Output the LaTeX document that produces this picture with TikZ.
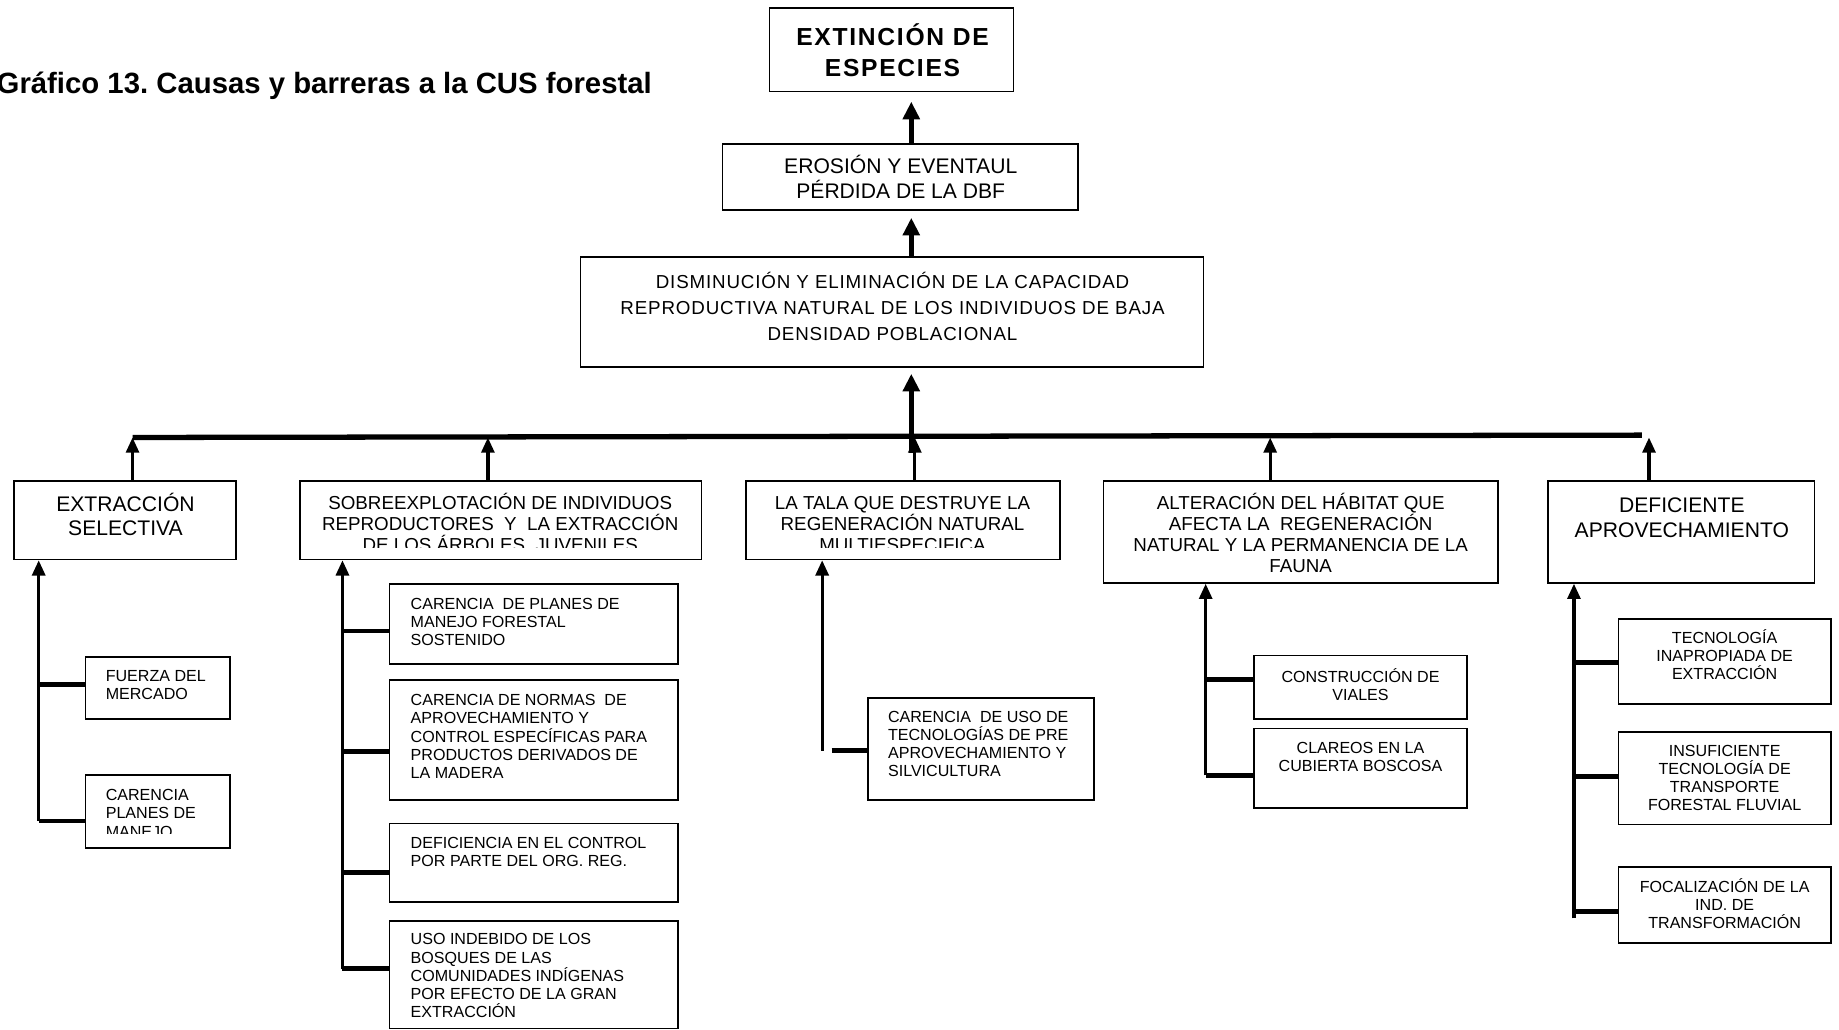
\documentclass[tikz,border=0pt]{standalone}
\usepackage{fontspec}
\setmainfont{Liberation Sans}
\newfontfamily\wideA[LetterSpace=7]{Liberation Sans}
\newfontfamily\wideB[LetterSpace=4.5]{Liberation Sans}
\usetikzlibrary{arrows.meta}
\frenchspacing
\newcommand\mkbox[5]{%
 \pgfmathsetmacro\mkbw{#4-#2}\pgfmathsetmacro\mkbh{#5-#3}%
 \node[box, minimum width=\mkbw pt, minimum height=\mkbh pt] (#1) at ({(#2+#4)/2},{(#3+#5)/2}) {};}
\begin{document}
\begin{tikzpicture}[x=1pt,y=-1pt,
  box/.style={draw, line width=1.4pt, inner sep=0pt},
  txt/.style={inner sep=0pt, anchor=base, align=center},
  ltxt/.style={inner sep=0pt, anchor=base west, align=left, font=\fontsize{13.7}{15.5}\selectfont},
  stxt/.style={inner sep=0pt, anchor=base, align=center, font=\fontsize{13.7}{15.5}\selectfont},
  mtxt/.style={txt, font=\fontsize{16}{18}\selectfont},
  bigarr/.style={line width=4.5pt, -{Triangle[width=14pt,length=15pt]}},
  arr/.style={line width=2.8pt, -{Triangle[width=11pt,length=13pt]}},
  br/.style={line width=4.2pt},
  bus/.style={line width=4.5pt}]
\useasboundingbox (0,0) rectangle (1568,878);

% title
\node[inner sep=0pt, anchor=base west, font=\fontsize{25}{28}\selectfont\bfseries] (title) at (-3,80) {Gráfico 13. Causas y barreras a la CUS forestal};

% top chain
\mkbox{b1}{656}{7}{864}{78}
\node[txt, font=\fontsize{21}{27}\wideA\bfseries] (b1t) at (761,65.5) {EXTINCIÓN DE\\ESPECIES};
\mkbox{b2}{616}{123}{919}{179}
\node[txt, font=\fontsize{18}{21}\selectfont] (b2t) at (768,169) {EROSIÓN Y EVENTAUL\\PÉRDIDA DE LA DBF};
\mkbox{b3}{495}{219}{1026}{313}
\node[txt, font=\fontsize{16}{22}\wideB] (b3t) at (761,290) {DISMINUCIÓN Y ELIMINACIÓN DE LA CAPACIDAD\\REPRODUCTIVA NATURAL DE LOS INDIVIDUOS DE BAJA\\DENSIDAD POBLACIONAL};

% level 2
\mkbox{l1}{12}{410}{201}{477}
\node[txt, font=\fontsize{18}{21}\selectfont] (l1t) at (107,457) {EXTRACCIÓN\\SELECTIVA};
\mkbox{l2}{256}{410}{598}{477}
\begin{scope}
\clip (256,410) rectangle (598,467);
\node[mtxt] (l2t) at (426.5,470.5) {SOBREEXPLOTACIÓN DE INDIVIDUOS\\REPRODUCTORES\ \ Y\ \ LA EXTRACCIÓN\\DE LOS ÁRBOLES\ \ JUVENILES};
\end{scope}
\mkbox{l3}{636}{410}{904}{477}
\begin{scope}
\clip (636,410) rectangle (904,467);
\node[mtxt] (l3t) at (769.5,470.5) {LA TALA QUE DESTRUYE LA\\REGENERACIÓN NATURAL\\MULTIESPECIFICA};
\end{scope}
\mkbox{l4}{941}{410}{1277}{497}
\node[mtxt] (l4t) at (1109,488.5) {ALTERACIÓN DEL HÁBITAT QUE\\AFECTA LA\ \ REGENERACIÓN\\NATURAL Y LA PERMANENCIA DE LA\\FAUNA};
\mkbox{l5}{1320}{410}{1547}{497}
\node[txt, font=\fontsize{18}{21}\selectfont] (l5t) at (1434,458) {DEFICIENTE\\APROVECHAMIENTO};

% level 3, group 1
\mkbox{f1}{73}{560}{196}{613}
\node[ltxt] (f1t) at (90,596.2) {FUERZA DEL\\MERCADO};
\mkbox{f2}{73}{661}{196}{723}
\begin{scope}
\clip (73,661) rectangle (196,711);
\node[ltxt] (f2t) at (90,713.7) {CARENCIA\\PLANES DE\\MANEJO};
\end{scope}

% group 2
\mkbox{s1}{332}{498}{578}{566}
\node[ltxt] (s1t) at (350,550.7) {CARENCIA\ \ DE PLANES DE\\MANEJO FORESTAL\\SOSTENIDO};
\mkbox{s2}{332}{580}{578}{682}
\node[ltxt] (s2t) at (350,663.7) {CARENCIA DE NORMAS\ \ DE\\APROVECHAMIENTO Y\\CONTROL ESPECÍFICAS PARA\\PRODUCTOS DERIVADOS DE\\LA MADERA};
\mkbox{s3}{332}{702}{578}{769}
\node[ltxt] (s3t) at (350,739.2) {DEFICIENCIA EN EL CONTROL\\POR PARTE DEL ORG. REG.};
\mkbox{s4}{332}{785}{578}{877}
\node[ltxt] (s4t) at (350,867.7) {USO INDEBIDO DE LOS\\BOSQUES DE LAS\\COMUNIDADES INDÍGENAS\\POR EFECTO DE LA GRAN\\EXTRACCIÓN};

% group 3
\mkbox{t1}{740}{595}{933}{682}
\node[ltxt] (t1t) at (757,662.2) {CARENCIA\ \ DE USO DE\\TECNOLOGÍAS DE PRE\\APROVECHAMIENTO Y\\SILVICULTURA};

% group 4
\mkbox{c1}{1069}{559}{1251}{613}
\node[stxt] (c1t) at (1160,597.2) {CONSTRUCCIÓN DE\\VIALES};
\mkbox{c2}{1069}{621}{1251}{689}
\node[stxt] (c2t) at (1160,658.2) {CLAREOS EN LA\\CUBIERTA BOSCOSA};

% group 5
\mkbox{d1}{1380}{528}{1561}{600}
\node[stxt] (d1t) at (1470.5,579.7) {TECNOLOGÍA\\INAPROPIADA DE\\EXTRACCIÓN};
\mkbox{d2}{1380}{624}{1561}{703}
\node[stxt] (d2t) at (1470.5,691.2) {INSUFICIENTE\\TECNOLOGÍA DE\\TRANSPORTE\\FORESTAL FLUVIAL};
\mkbox{d3}{1380}{739}{1561}{804}
\node[stxt] (d3t) at (1470.5,791.7) {FOCALIZACIÓN DE LA\\IND. DE\\TRANSFORMACIÓN};

% connectors: top chain
\coordinate (xa) at (777,0);
\draw[bigarr] (b2.north -| xa) -- ([yshift=-8pt]b1.south -| xa);
\draw[bigarr] (b3.north -| xa) -- ([yshift=-6pt]b2.south -| xa);

% bus
\coordinate (busL) at (113,373);
\coordinate (busR) at (1400,371);
\coordinate (busM) at (777,386);
\draw[bus] (busL) -- (busR);
\draw[bigarr] (busM) -- ([yshift=-5pt]b3.south -| busM);

\coordinate (x1) at (113,0);
\coordinate (x2) at (416,0);
\coordinate (x3) at (780,0);
\coordinate (x4) at (1083,0);
\coordinate (x5) at (1406,0);
\draw[arr] (l1.north -| x1) -- (busL -| x1);
\draw[arr] (l2.north -| x2) -- (busL -| x2);
\draw[arr] (l3.north -| x3) -- (busL -| x3);
\draw[arr] (l4.north -| x4) -- (busL -| x4);
\draw[arr] (l5.north -| x5) -- ([yshift=-2pt]busR -| x5);

% group 1
\coordinate (g1) at (33,700);
\coordinate (g1a) at (33,584);
\draw[arr] (g1) -- (l1.south -| g1);
\draw[br] (g1a) -- (g1a -| f1.west);
\draw[br] (g1) -- (g1 -| f2.west);

% group 2
\coordinate (g2) at (292,826);
\coordinate (g2a) at (292,538);
\coordinate (g2b) at (292,641);
\coordinate (g2c) at (292,744);
\draw[arr] (g2) -- (l2.south -| g2);
\draw[br] (g2a) -- (g2a -| s1.west);
\draw[br] (g2b) -- (g2b -| s2.west);
\draw[br] (g2c) -- (g2c -| s3.west);
\draw[br] (g2) -- (g2 -| s4.west);

% group 3
\coordinate (g3) at (701,640);
\coordinate (g3s) at (709,640);
\draw[arr] (g3) -- (l3.south -| g3);
\draw[br] (g3s) -- (g3s -| t1.west);

% group 4
\coordinate (g4) at (1028,661);
\coordinate (g4a) at (1028,579);
\draw[arr] (g4) -- (l4.south -| g4);
\draw[br] (g4a) -- (g4a -| c1.west);
\draw[br] (g4) -- (g4 -| c2.west);

% group 5
\coordinate (g5) at (1342,783);
\coordinate (g5a) at (1342,565);
\coordinate (g5b) at (1342,662);
\coordinate (g5c) at (1342,777);
\draw[arr] (g5) -- (l5.south -| g5);
\draw[br] (g5a) -- (g5a -| d1.west);
\draw[br] (g5b) -- (g5b -| d2.west);
\draw[br] (g5c) -- (g5c -| d3.west);
\end{tikzpicture}
\end{document}
